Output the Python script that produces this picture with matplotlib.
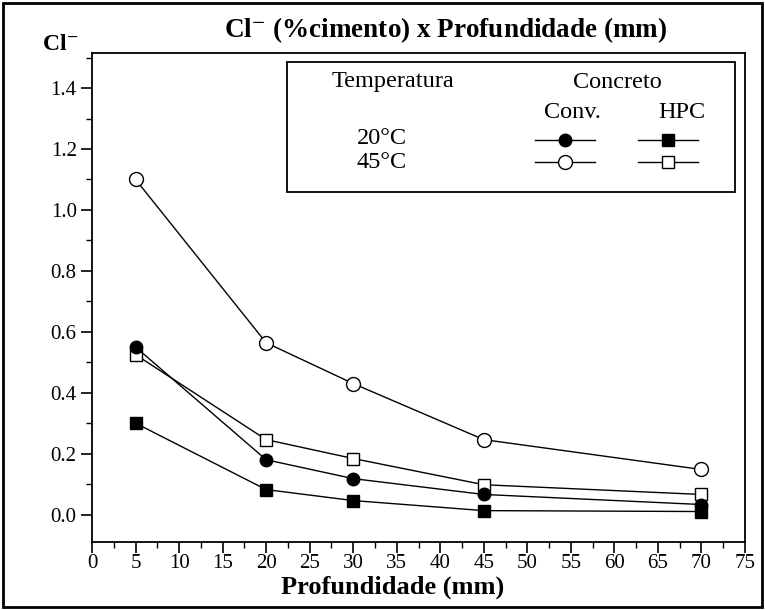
import numpy as np
import matplotlib.pyplot as plt
from matplotlib.patches import Rectangle
from matplotlib.ticker import MultipleLocator

plt.rcParams['font.family'] = ['Liberation Serif', 'DejaVu Serif']
plt.rcParams['mathtext.fontset'] = 'stix'

profundidade = [5, 20, 30, 45, 70]
conv_20 = [0.55, 0.18, 0.118, 0.066, 0.033]
conv_45 = [1.10, 0.564, 0.43, 0.246, 0.148]
hpc_20 = [0.30, 0.082, 0.046, 0.013, 0.010]
hpc_45 = [0.525, 0.246, 0.184, 0.098, 0.066]

x_ticks = list(range(0, 80, 5))
y_ticks = [0.0, 0.2, 0.4, 0.6, 0.8, 1.0, 1.2, 1.4]

fig = plt.figure(figsize=(7.65, 6.1), dpi=100)
ax = fig.add_axes([92 / 765, 1 - 542 / 610, 653 / 765, 489 / 610])

lw = 1.0
ax.plot(profundidade, conv_45, color='black', lw=lw, marker='o', ms=10,
        mfc='white', mec='black', mew=1.0, zorder=3)
ax.plot(profundidade, hpc_45, color='black', lw=lw, marker='s', ms=9,
        mfc='white', mec='black', mew=1.0, zorder=3)
ax.plot(profundidade, conv_20, color='black', lw=lw, marker='o', ms=9,
        mfc='black', mec='black', zorder=4)
ax.plot(profundidade, hpc_20, color='black', lw=lw, marker='s', ms=8,
        mfc='black', mec='black', zorder=4)

ax.set_xlim(0, 75)
ax.set_ylim(-0.09, 1.515)
ax.set_xticks(x_ticks)
ax.set_xticklabels([str(v) for v in x_ticks], fontsize=15)
ax.set_yticks(y_ticks)
ax.set_yticklabels([f'{v:.1f}' for v in y_ticks], fontsize=15)
ax.xaxis.set_minor_locator(MultipleLocator(2.5))
ax.yaxis.set_minor_locator(MultipleLocator(0.1))
ax.tick_params(axis='both', which='major', direction='out', length=8, width=1.2, pad=3)
ax.tick_params(axis='x', which='major', pad=1)
ax.tick_params(axis='both', which='minor', direction='out', length=4, width=1.0)
for sp in ax.spines.values():
    sp.set_linewidth(1.3)

ax.set_xlabel('Profundidade (mm)', fontsize=19, fontweight='bold')
ax.xaxis.set_label_coords((393 - 92) / 653, (542 - 576) / 489)
fig.text(446 / 765, 1 - 30 / 610, 'Cl$^{-}$ (%cimento) x Profundidade (mm)',
         ha='center', va='center', fontsize=19.5, fontweight='bold')
fig.text(60 / 765, 1 - 45 / 610, 'Cl$^{-}$', ha='center', va='center',
         fontsize=17, fontweight='bold')

# legend box drawn by hand
def ax_pt(px, py):
    return ((px - 92) / 653, (542 - py) / 489)

x0, y0 = ax_pt(287, 192)
x1, y1 = ax_pt(735, 62)
ax.add_patch(Rectangle((x0, y0), x1 - x0, y1 - y0, transform=ax.transAxes,
                       fill=True, facecolor='white', edgecolor='black', lw=1.3, zorder=5))

def legend_text(px, py, s):
    tx, ty = ax_pt(px, py)
    ax.text(tx, ty, s, transform=ax.transAxes, ha='center', va='center',
            fontsize=17.5, zorder=6)

legend_text(393, 82, 'Temperatura')
legend_text(617, 82, 'Concreto')
legend_text(572, 112, 'Conv.')
legend_text(682, 112, 'HPC')
legend_text(382, 139, '20°C')
legend_text(382, 162, '45°C')

def legend_sample(pxc, py, marker, filled, ms):
    a = ax_pt(pxc - 30, py)
    b = ax_pt(pxc + 30, py)
    c = ax_pt(pxc, py)
    ax.plot([a[0], b[0]], [a[1], b[1]], color='black', lw=lw,
            transform=ax.transAxes, zorder=6, clip_on=False)
    ax.plot([c[0]], [c[1]], marker=marker, ms=ms, color='black',
            mfc='black' if filled else 'white', mec='black', mew=1.0,
            transform=ax.transAxes, zorder=7, clip_on=False)

legend_sample(565, 140, 'o', True, 9)
legend_sample(668, 140, 's', True, 8)
legend_sample(565, 162, 'o', False, 10)
legend_sample(668, 162, 's', False, 9)

fig.add_artist(Rectangle((3 / 765, 3 / 610), 759 / 765, 604 / 610,
                         transform=fig.transFigure, fill=False,
                         edgecolor='black', lw=2.0))

fig.savefig('out.png', dpi=100)
